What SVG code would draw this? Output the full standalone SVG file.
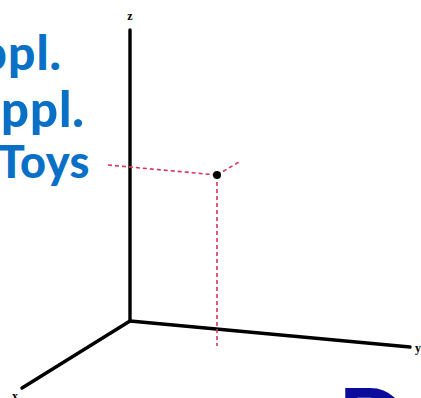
<svg xmlns="http://www.w3.org/2000/svg" width="421" height="398" viewBox="0 0 421 398">
  <style>
    .blue { font-family: Lato, "Liberation Sans", sans-serif; font-weight: 900; fill: #0a70c6; }
    .axis { stroke: #000; stroke-width: 3.4; stroke-linecap: round; fill: none; }
    .proj { stroke: #d8345a; stroke-width: 1.6; stroke-dasharray: 4 3; fill: none; }
    .lbl { font-family: "Liberation Serif", serif; font-weight: bold; font-size: 12px; fill: #000; }
  </style>
  <rect width="421" height="398" fill="#fff"/>
  <g id="title">
    <text class="blue" x="62" y="70" font-size="48" letter-spacing="1" text-anchor="end">ppl.</text>
    <text class="blue" x="85" y="127" font-size="49" letter-spacing="1" text-anchor="end">ppl.</text>
    <text class="blue" x="90" y="178" font-size="45" letter-spacing="0.5" text-anchor="end">Toys</text>
  </g>
  <g id="connectors">
    <line class="axis" x1="130" y1="30" x2="130" y2="321"/>
    <line class="axis" x1="130" y1="321" x2="410" y2="347"/>
    <line class="axis" x1="130" y1="321" x2="22" y2="388"/>
    <polyline class="proj" points="108,165 217,175"/>
    <polyline class="proj" points="217,175 239,162"/>
    <polyline class="proj" points="217,175 217,346"/>
  </g>
  <g id="point">
    <circle cx="217" cy="175" r="4" fill="#000"/>
  </g>
  <g id="labels">
    <text class="lbl" x="130" y="20" text-anchor="middle">z</text>
    <text class="lbl" x="12" y="400">x</text>
    <text class="lbl" x="415" y="352">y</text>
  </g>
  <g id="corner-letter">
    <text x="338" y="453" font-family="Lato, 'Liberation Sans', sans-serif" font-weight="bold" font-size="90" fill="#0b0b9c">D</text>
  </g>
</svg>
